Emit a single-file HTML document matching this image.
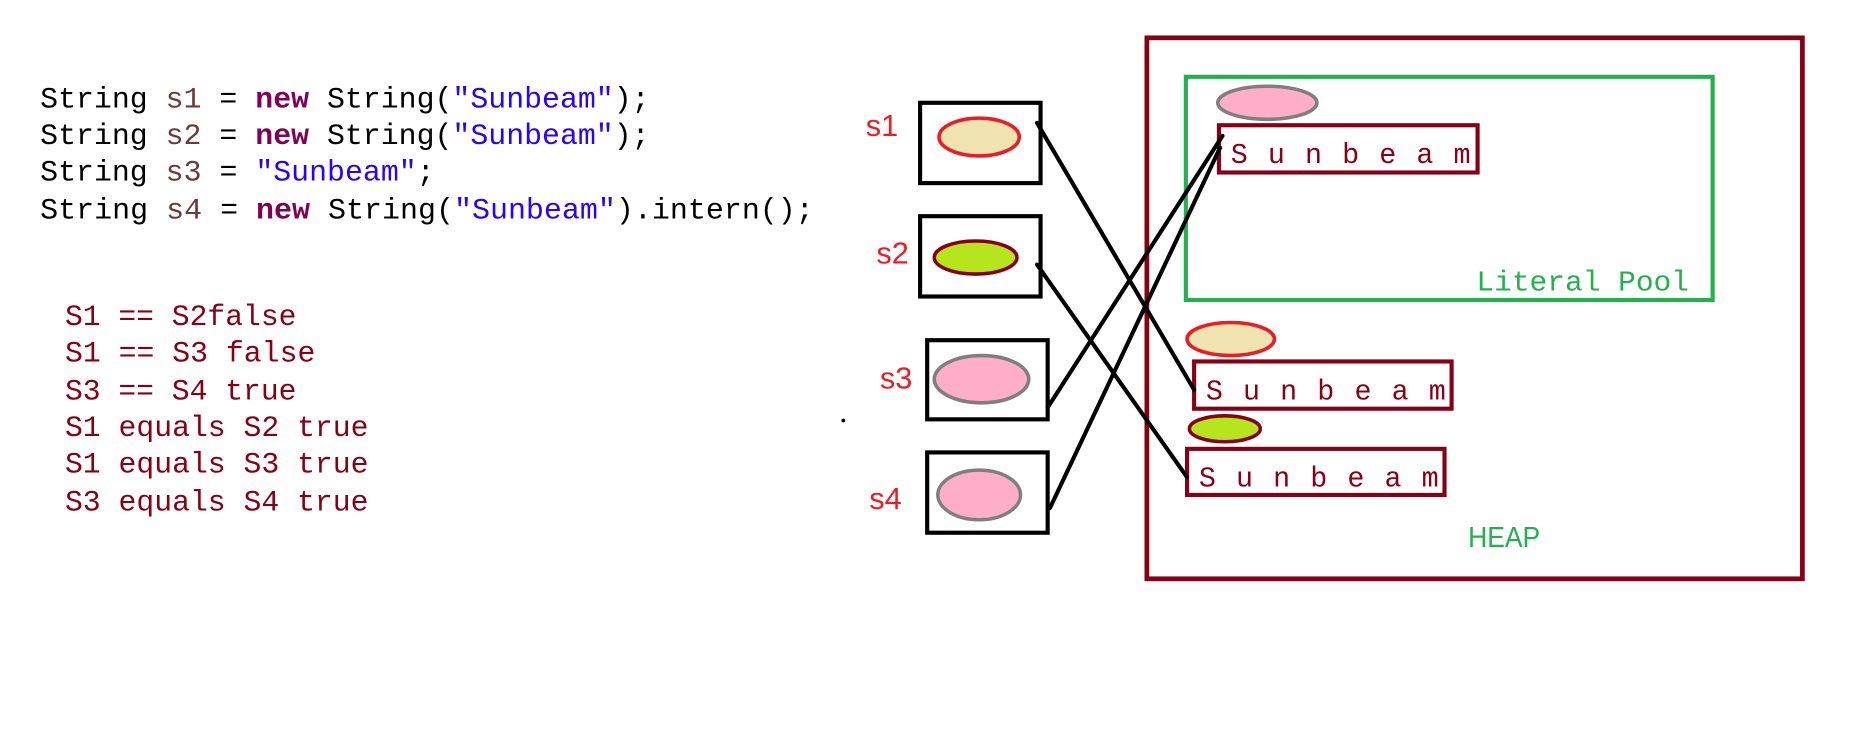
<!DOCTYPE html>
<html><head><meta charset="utf-8"><style>
html,body{margin:0;padding:0;background:#fff;}
svg{display:block;}
text{font-family:"Liberation Mono",monospace;}
</style></head><body>
<svg width="1852" height="743" viewBox="0 0 1568 629" xmlns="http://www.w3.org/2000/svg">
<rect width="1568" height="629" fill="#fff"/>
<g font-size="25" fill="#000">
<text x="34" y="91" textLength="516" lengthAdjust="spacingAndGlyphs">String <tspan fill="#6b3a3a">s1</tspan> = <tspan fill="#7f0055" font-weight="bold">new</tspan> String(<tspan fill="#2a00ff">"Sunbeam"</tspan>);</text>
<text x="34" y="122" textLength="516" lengthAdjust="spacingAndGlyphs">String <tspan fill="#6b3a3a">s2</tspan> = <tspan fill="#7f0055" font-weight="bold">new</tspan> String(<tspan fill="#2a00ff">"Sunbeam"</tspan>);</text>
<text x="34" y="153" textLength="334" lengthAdjust="spacingAndGlyphs">String <tspan fill="#6b3a3a">s3</tspan> = <tspan fill="#2a00ff">"Sunbeam"</tspan>;</text>
<text x="34" y="185" textLength="655" lengthAdjust="spacingAndGlyphs">String <tspan fill="#6b3a3a">s4</tspan> = <tspan fill="#7f0055" font-weight="bold">new</tspan> String(<tspan fill="#2a00ff">"Sunbeam"</tspan>).intern();</text>
</g>
<g font-size="25" fill="#880015">
<text x="55" y="275" textLength="196" lengthAdjust="spacingAndGlyphs">S1 == S2false</text>
<text x="55" y="306" textLength="212" lengthAdjust="spacingAndGlyphs">S1 == S3 false</text>
<text x="55" y="338" textLength="196" lengthAdjust="spacingAndGlyphs">S3 == S4 true</text>
<text x="55" y="369" textLength="257" lengthAdjust="spacingAndGlyphs">S1 equals S2 true</text>
<text x="55" y="400" textLength="257" lengthAdjust="spacingAndGlyphs">S1 equals S3 true</text>
<text x="55" y="432" textLength="257" lengthAdjust="spacingAndGlyphs">S3 equals S4 true</text>
</g>
<circle cx="714" cy="356" r="1.6" fill="#000"/>
<g font-size="26" fill="#ed1c24">
<text x="733" y="115" style="font-family:'Liberation Sans',sans-serif">s1</text>
<text x="742" y="223" style="font-family:'Liberation Sans',sans-serif">s2</text>
<text x="745" y="329" style="font-family:'Liberation Sans',sans-serif">s3</text>
<text x="736" y="431" style="font-family:'Liberation Sans',sans-serif">s4</text>
</g>
<g fill="none" stroke="#000" stroke-width="3.5">
<rect x="779" y="87" width="102" height="68"/>
<rect x="779" y="183" width="102" height="68"/>
<rect x="785" y="288" width="102" height="67"/>
<rect x="785" y="383" width="102" height="68"/>
</g>
<ellipse cx="829" cy="116" rx="34" ry="16" fill="#efe4b0" stroke="#ed1c24" stroke-width="3"/>
<ellipse cx="826" cy="218" rx="35" ry="14" fill="#b5e61d" stroke="#880015" stroke-width="3"/>
<ellipse cx="831" cy="321" rx="40" ry="20" fill="#ffaec9" stroke="#7f7f7f" stroke-width="3"/>
<ellipse cx="829" cy="419" rx="35" ry="21" fill="#ffaec9" stroke="#7f7f7f" stroke-width="3"/>
<rect x="971" y="32" width="555" height="458" fill="none" stroke="#880015" stroke-width="4"/>
<rect x="1004" y="65" width="446" height="189" fill="none" stroke="#22b14c" stroke-width="3.5"/>
<ellipse cx="1073" cy="87" rx="42" ry="14" fill="#ffaec9" stroke="#7f7f7f" stroke-width="3"/>
<ellipse cx="1042" cy="287" rx="37" ry="14" fill="#efe4b0" stroke="#ed1c24" stroke-width="3"/>
<ellipse cx="1037" cy="363" rx="30" ry="11" fill="#b5e61d" stroke="#880015" stroke-width="3"/>
<g fill="none" stroke="#880015" stroke-width="3.5">
<rect x="1032" y="106" width="219" height="40"/>
<rect x="1011" y="306" width="218" height="40"/>
<rect x="1005" y="380" width="218" height="39"/>
</g>
<g font-size="24" fill="#880015">
<text x="1042" y="138" textLength="203" lengthAdjust="spacing">Sunbeam</text>
<text x="1021" y="338" textLength="203" lengthAdjust="spacing">Sunbeam</text>
<text x="1015" y="412" textLength="203" lengthAdjust="spacing">Sunbeam</text>
</g>
<g font-size="24" fill="#22b14c">
<text x="1250" y="246" textLength="180" lengthAdjust="spacingAndGlyphs">Literal Pool</text>
<text x="1243" y="463" textLength="61" lengthAdjust="spacingAndGlyphs" style="font-family:'Liberation Sans',sans-serif">HEAP</text>
</g>
<g stroke="#000" stroke-width="3.5" stroke-linecap="round">
<line x1="878" y1="104" x2="1011" y2="330"/>
<line x1="878" y1="224" x2="1005" y2="404"/>
<line x1="887" y1="345" x2="1035" y2="115"/>
<line x1="889" y1="430" x2="1033" y2="125"/>
</g>
</svg>
</body></html>
